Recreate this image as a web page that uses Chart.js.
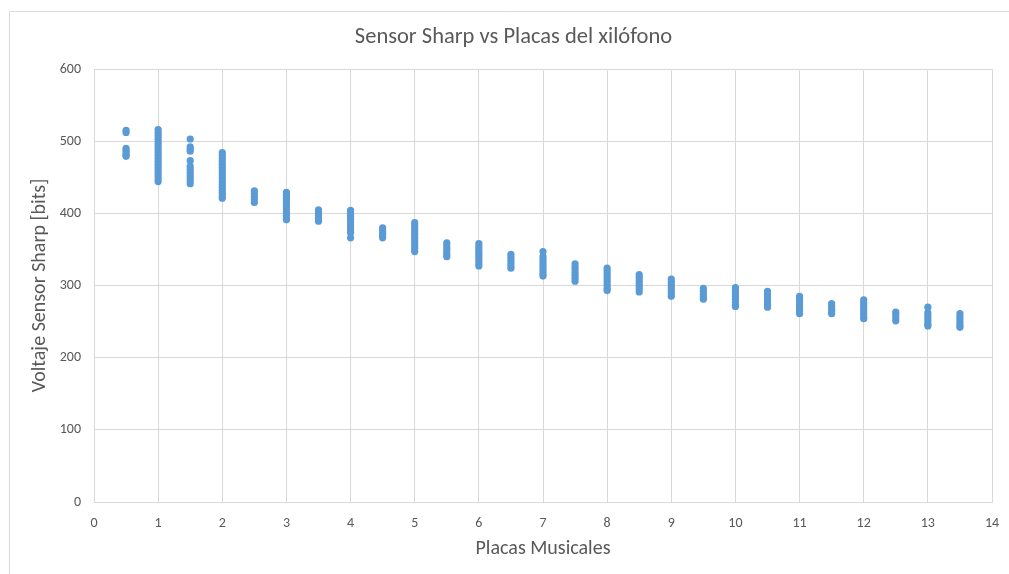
<!DOCTYPE html>
<html>
<head>
<meta charset="utf-8">
<script src="https://cdn.jsdelivr.net/npm/chart.js@4/dist/chart.umd.min.js"></script>
<style>
  html, body { margin: 0; padding: 0; background: #ffffff; }
  #wrap { width: 1009px; height: 574px; position: relative; }
</style>
</head>
<body>
<div id="wrap"><canvas id="grafico"></canvas></div>
<script>
// Placas del xilófono (posición en el eje X)
const placas = [0.5, 1, 1.5, 2, 2.5, 3, 3.5, 4, 4.5, 5, 5.5, 6, 6.5, 7,
                7.5, 8, 8.5, 9, 9.5, 10, 10.5, 11, 11.5, 12, 12.5, 13, 13.5];

// Lecturas del sensor Sharp [bits] tomadas en cada placa
const lecturas = [
  [515, 512, 490, 487, 484, 481, 479],
  [516, 512, 508, 504, 500, 496, 492, 488, 484, 480, 476, 472, 468, 464, 460, 456, 452, 448, 444],
  [503, 492, 489, 486, 473, 465, 461, 457, 453, 449, 445, 441],
  [484, 480, 476, 472, 468, 464, 460, 456, 452, 448, 444, 440, 436, 432, 428, 424, 421],
  [431, 427, 423, 419, 415],
  [429, 425, 421, 417, 413, 409, 405, 401, 397, 393, 391],
  [405, 401, 397, 393, 389],
  [404, 400, 396, 392, 388, 384, 380, 376, 373, 366],
  [380, 376, 372, 369, 366],
  [387, 383, 379, 375, 371, 367, 363, 359, 355, 351, 347],
  [359, 355, 351, 347, 343, 340],
  [358, 354, 350, 346, 342, 338, 334, 330, 327],
  [343, 339, 335, 331, 327, 324],
  [347, 340, 336, 332, 328, 324, 320, 316, 313],
  [330, 326, 322, 318, 314, 310, 306],
  [324, 320, 316, 312, 308, 304, 300, 296, 293],
  [315, 311, 307, 303, 299, 295, 291],
  [309, 305, 301, 297, 293, 289, 285],
  [296, 292, 288, 284, 281],
  [297, 293, 289, 285, 281, 277, 273, 271],
  [292, 288, 284, 280, 276, 272, 270],
  [285, 281, 277, 273, 269, 265, 261],
  [275, 271, 267, 264, 261],
  [280, 276, 272, 268, 264, 260, 256, 254],
  [263, 259, 255, 251],
  [270, 262, 258, 254, 250, 246, 244],
  [261, 257, 253, 249, 245, 242]
];

// Marcas de los ejes
const ticksX = [0, 1, 2, 3, 4, 5, 6, 7, 8, 9, 10, 11, 12, 13, 14];
const ticksY = [0, 100, 200, 300, 400, 500, 600];

const titulo = 'Sensor Sharp vs Placas del xilófono';
const tituloX = 'Placas Musicales';
const tituloY = 'Voltaje Sensor Sharp [bits]';

// Pares (x, y) para el diagrama de dispersión
const puntos = [];
placas.forEach((p, i) => lecturas[i].forEach(v => puntos.push({ x: p, y: v })));

const fuente = "'Carlito', 'Liberation Sans', 'DejaVu Sans', sans-serif";
const gris = '#595959';
const rejilla = '#d9d9d9';

// Marco exterior del gráfico
const marco = {
  id: 'marco',
  beforeDraw(chart) {
    const ctx = chart.ctx;
    ctx.save();
    ctx.strokeStyle = rejilla;
    ctx.lineWidth = 1;
    ctx.beginPath();
    ctx.moveTo(9.5, 574);
    ctx.lineTo(9.5, 11.5);
    ctx.lineTo(1009, 11.5);
    ctx.stroke();
    ctx.restore();
  }
};

new Chart(document.getElementById('grafico'), {
  type: 'scatter',
  data: {
    datasets: [{
      label: 'Voltaje',
      data: puntos,
      backgroundColor: '#5b9bd5',
      borderColor: '#5b9bd5',
      pointRadius: 3.6,
      pointBorderWidth: 0,
      pointHoverRadius: 3.6
    }]
  },
  options: {
    responsive: true,
    maintainAspectRatio: false,
    animation: false,
    events: [],
    layout: { padding: { left: 35, right: 17, top: 0, bottom: 0 } },
    plugins: {
      legend: { display: false },
      tooltip: { enabled: false },
      title: {
        display: true,
        text: titulo,
        color: gris,
        font: { family: fuente, size: 22.5, weight: 'normal' },
        padding: { top: 24, bottom: 18 }
      }
    },
    scales: {
      x: {
        type: 'linear',
        min: 0,
        max: 14,
        afterBuildTicks(scale) { scale.ticks = ticksX.map(v => ({ value: v })); },
        afterFit(scale) {
          scale.height = 72;
          scale.paddingLeft = 0;
          scale.paddingRight = 0;
        },
        grid: { color: rejilla, drawTicks: false },
        border: { color: rejilla },
        ticks: {
          color: gris,
          padding: 13,
          font: { family: fuente, size: 14 }
        },
        title: {
          display: true,
          text: tituloX,
          color: gris,
          font: { family: fuente, size: 20 },
          padding: { top: 0, bottom: 13 }
        }
      },
      y: {
        type: 'linear',
        min: 0,
        max: 600,
        afterBuildTicks(scale) { scale.ticks = ticksY.map(v => ({ value: v })); },
        afterFit(scale) {
          scale.width = 59;
          scale.paddingTop = 0;
          scale.paddingBottom = 0;
        },
        grid: { color: rejilla, drawTicks: false },
        border: { color: rejilla },
        ticks: {
          color: gris,
          padding: 13,
          font: { family: fuente, size: 14 }
        },
        title: {
          display: true,
          text: tituloY,
          color: gris,
          font: { family: fuente, size: 20 },
          padding: { top: -7, bottom: 0 }
        }
      }
    }
  },
  plugins: [marco]
});
</script>
</body>
</html>
